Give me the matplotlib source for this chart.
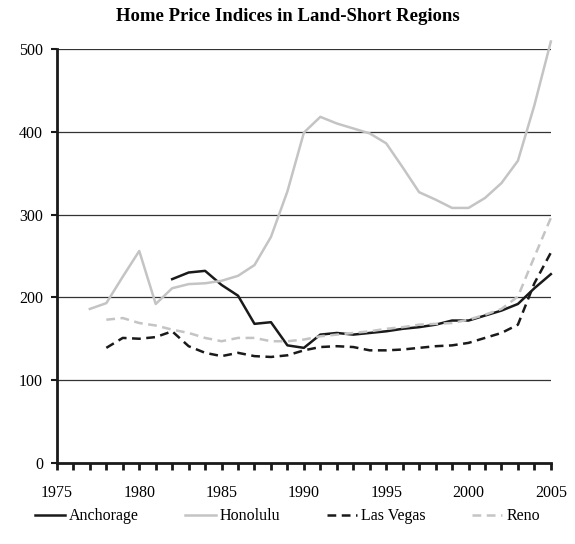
import matplotlib
matplotlib.use("Agg")
import matplotlib.pyplot as plt
import numpy as np

# Data (index values)
years_hon = list(range(1977, 2006))
honolulu = [186, 193, 225, 256, 192, 211, 216, 217, 220, 226, 239, 273, 328, 399,
            418, 410, 404, 398, 386, 357, 327, 318, 308, 308, 320, 338, 365, 432, 509]

years_anc = list(range(1982, 2006))
anchorage = [222, 230, 232, 215, 202, 168, 170, 142, 139, 155, 157, 155, 157, 159,
             162, 164, 167, 172, 172, 178, 184, 192, 211, 228]

years_lv = list(range(1978, 2006))
las_vegas = [139, 151, 150, 152, 159, 141, 133, 129, 133, 129, 128, 130, 136, 140,
             141, 140, 136, 136, 137, 139, 141, 142, 145, 151, 157, 167, 217, 254]

years_reno = list(range(1978, 2006))
reno = [173, 175, 169, 166, 161, 157, 151, 147, 151, 151, 147, 147, 149, 153,
        155, 157, 159, 162, 164, 167, 168, 169, 173, 179, 186, 201, 249, 296]

title = "Home Price Indices in Land-Short Regions"

plt.rcParams['font.family'] = ['Liberation Serif', 'DejaVu Serif']

fig = plt.figure(figsize=(5.75, 5.44), dpi=100)
ax = fig.add_axes([0.099, 0.149, 0.859, 0.761])

black = '#1a1a1a'
grey = '#c4c4c4'
dash = (0, (3.5, 2.2))

ax.plot(years_anc, anchorage, color=black, lw=1.8, label='Anchorage', clip_on=False)
ax.plot(years_hon, honolulu, color=grey, lw=1.8, label='Honolulu', clip_on=False)
ax.plot(years_lv, las_vegas, color=black, lw=1.8, ls=dash, label='Las Vegas', clip_on=False)
ax.plot(years_reno, reno, color=grey, lw=1.8, ls=dash, label='Reno', clip_on=False)

ax.set_xlim(1975, 2005)
ax.set_ylim(0, 500)
ax.set_yticks(np.arange(0, 501, 100))
ax.set_xticks(np.arange(1975, 2006, 5))
ax.set_xticks(np.arange(1975, 2006, 1), minor=True)

for y in range(100, 501, 100):
    ax.axhline(y, color='#333333', lw=0.9, zorder=0)

for s in ['top', 'right']:
    ax.spines[s].set_visible(False)
ax.spines['left'].set_linewidth(2)
ax.spines['bottom'].set_linewidth(2)
ax.spines['left'].set_color(black)
ax.spines['bottom'].set_color(black)

ax.tick_params(axis='x', which='both', direction='out', length=5, width=2, color=black,
               labelsize=11.5, pad=11)
ax.tick_params(axis='y', direction='out', length=4, width=1.5, color=black,
               labelsize=11.5, pad=6)

fig.suptitle(title, fontsize=13.5, fontweight='bold', y=0.985)

leg = fig.legend(loc='lower center', ncol=4, frameon=False, fontsize=11.5,
                 bbox_to_anchor=(0.5, 0.01), handlelength=1.9, handletextpad=0.25,
                 columnspacing=2.9)

fig.savefig('out.png', dpi=100)
